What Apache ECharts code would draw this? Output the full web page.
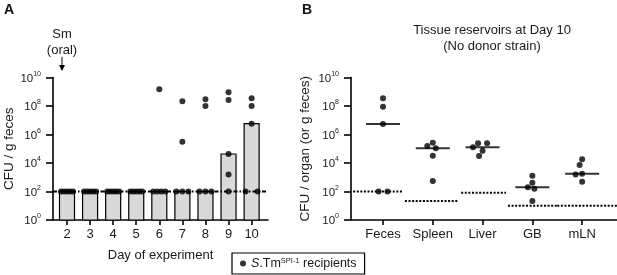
<!DOCTYPE html>
<html><head><meta charset="utf-8">
<script src="https://cdn.jsdelivr.net/npm/echarts@6/dist/echarts.min.js"></script>
<style>html,body{margin:0;padding:0;background:#fff}#c{width:617px;height:275px}</style>
</head><body><div id="c"></div>
<script>
// ---- Panel A: log10(CFU / g feces), five recipients per day ----
const days = ['2','3','4','5','6','7','8','9','10'];
const day2  = [2, 2, 2, 2, 2];
const day3  = [2, 2, 2, 2, 2];
const day4  = [2, 2, 2, 2, 2];
const day5  = [2, 2, 2, 2, 2];
const day6  = [9.17, 2, 2, 2, 2];
const day7  = [8.33, 5.49, 2, 2, 2];
const day8  = [8.47, 8.0, 2, 2, 2];
const day9  = [8.96, 8.42, 4.63, 3.2, 2];
const day10 = [8.54, 8.0, 6.76, 2, 2];
const fecesLOD = 2;

// ---- Panel B: log10(CFU / organ or g feces) at day 10 ----
const tissues = ['Feces', 'Spleen', 'Liver', 'GB', 'mLN'];
const feces  = [8.54, 7.95, 6.74, 2, 2];
const spleen = [5.42, 5.19, 5.03, 4.51, 2.74];
const liver  = [5.38, 5.38, 5.1, 4.86, 4.49];
const gb     = [3.11, 2.62, 2.29, 2.2, 1.33];
const mln    = [4.26, 3.86, 3.25, 3.2, 2.69];
const tissueLOD = [2, 1.33, 1.92, 1, 1];

const yTicks = [0, 2, 4, 6, 8, 10];
const seriesName = 'S.Tm recipients';

// ---------------- layout ----------------
const FONT = '"Liberation Sans", Arial, Helvetica, sans-serif';
const gridTop = 77.5, gridH = 142.5;
const gA = {left: 53, width: 215, min: -0.607, max: 8.71};
const gB = {left: 351, width: 266, min: -0.643, max: 4.70};
const pxPerDecade = gridH / 10;
const lodSpans = [[-0.6, 0.4], [0.44, 1.5], [1.57, 2.47], [2.51, 3.5], [3.5, 4.7]];

function median(a) {
  const s = a.slice().sort((x, y) => x - y);
  const m = Math.floor(s.length / 2);
  return s.length % 2 ? s[m] : (s[m - 1] + s[m]) / 2;
}

// simple beeswarm: identical values are spread across dupSpan px, others avoid overlap
function swarm(vals, dupSpan, D) {
  const order = vals.map((v, i) => i).sort((a, b) => vals[b] - vals[a]);
  const placed = [];
  const out = new Array(vals.length);
  const done = new Set();
  for (const i of order) {
    if (done.has(i)) continue;
    const dups = order.filter(j => !done.has(j) && vals[j] === vals[i]);
    const y = vals[i] * pxPerDecade;
    if (dups.length > 1) {
      const n = dups.length;
      dups.forEach((j, k) => {
        const dx = (k - (n - 1) / 2) * dupSpan / (n - 1);
        out[j] = dx; placed.push({dx, y}); done.add(j);
      });
      continue;
    }
    let dx = 0;
    for (let k = 0; k < 200; k++) {
      const c = k === 0 ? 0 : (k % 2 ? -1 : 1) * Math.ceil(k / 2) * 0.5;
      if (placed.every(p => Math.hypot(p.dx - c, p.y - y) >= D)) { dx = c; break; }
    }
    out[i] = dx; placed.push({dx, y}); done.add(i);
  }
  return out;
}

const dayData = [day2, day3, day4, day5, day6, day7, day8, day9, day10];
const tissueData = [feces, spleen, liver, gb, mln];

const pxA = gA.width / (gA.max - gA.min);
const pxB = gB.width / (gB.max - gB.min);

const pointsA = [];
dayData.forEach((vals, i) => {
  const off = swarm(vals, 12, 5.5);
  vals.forEach((v, k) => pointsA.push([i + off[k] / pxA, v]));
});
const barsA = dayData.map((vals, i) => [i, median(vals)]);

const pointsB = [];
tissueData.forEach((vals, i) => {
  const off = swarm(vals, 9, 6.2);
  vals.forEach((v, k) => pointsB.push([i + off[k] / pxB, v]));
});
const mediansB = tissueData.map((vals, i) => [i, median(vals)]);
const lodB = tissueLOD.map((v, i) => [lodSpans[i][0], lodSpans[i][1], v]);

const axisLineStyle = {color: '#000', width: 1.6};
function yAxis(gridIndex, name, gap) {
  return {
    gridIndex, type: 'value', min: 0, max: 10, interval: 2,
    name, nameLocation: 'middle', nameGap: gap,
    nameTextStyle: {fontFamily: FONT, fontSize: 13.5, color: '#1a1a1a'},
    axisLine: {show: true, onZero: false, lineStyle: axisLineStyle},
    axisTick: {show: true, length: 7, lineStyle: axisLineStyle},
    splitLine: {show: false},
    axisLabel: {
      margin: 12,
      formatter: v => '{b|10}{s|' + v + '}',
      rich: {
        b: {fontFamily: FONT, fontSize: 11.5, color: '#1a1a1a', verticalAlign: 'bottom', lineHeight: 14},
        s: {fontFamily: FONT, fontSize: 7, color: '#1a1a1a', verticalAlign: 'top', lineHeight: 14}
      }
    }
  };
}
function xAxis(gridIndex, g, cats, name) {
  const idx = cats.map((c, i) => i);
  return {
    gridIndex, type: 'value', min: g.min, max: g.max,
    name, nameLocation: 'middle', nameGap: 29,
    nameTextStyle: {fontFamily: FONT, fontSize: 13, color: '#1a1a1a'},
    axisLine: {show: true, onZero: false, lineStyle: axisLineStyle},
    axisTick: {show: true, length: 5, customValues: idx, lineStyle: axisLineStyle},
    splitLine: {show: false},
    axisLabel: {
      customValues: idx, margin: 8,
      fontFamily: FONT, fontSize: 13, color: '#1a1a1a',
      formatter: v => cats[Math.round(v)]
    }
  };
}

const chart = echarts.init(document.getElementById('c'));
chart.setOption({
  animation: false,
  backgroundColor: '#fff',
  textStyle: {fontFamily: FONT},
  title: {
    text: 'Tissue reservoirs at Day 10\n(No donor strain)',
    left: 487, top: 17, textAlign: 'center',
    textStyle: {fontFamily: FONT, fontSize: 13, fontWeight: 'normal', color: '#1a1a1a', lineHeight: 16}
  },
  grid: [
    {left: gA.left, top: gridTop, width: gA.width, height: gridH},
    {left: gB.left, top: gridTop, width: gB.width, height: gridH}
  ],
  xAxis: [xAxis(0, gA, days, 'Day of experiment'), xAxis(1, gB, tissues, '')],
  yAxis: [yAxis(0, 'CFU / g feces', 36), yAxis(1, 'CFU / organ (or g feces)', 39)],
  legend: {
    data: [seriesName],
    left: 232, top: 253,
    padding: [4, 8, 4, 8],
    borderColor: '#000', borderWidth: 1.2,
    icon: 'circle', itemWidth: 6, itemHeight: 6, itemGap: 5,
    formatter: () => '{i|S}{n|.Tm}{s|SPI-1}{n| recipients}',
    textStyle: {
      rich: {
        i: {fontFamily: FONT, fontSize: 12.5, fontStyle: 'italic', color: '#1a1a1a', verticalAlign: 'bottom', lineHeight: 13},
        n: {fontFamily: FONT, fontSize: 12.5, color: '#1a1a1a', verticalAlign: 'bottom', lineHeight: 13},
        s: {fontFamily: FONT, fontSize: 7.5, color: '#1a1a1a', verticalAlign: 'top', lineHeight: 13}
      }
    }
  },
  graphic: [
    {type: 'text', left: 4, top: 3, style: {text: 'A', font: 'bold 14px ' + FONT, fill: '#111'}},
    {type: 'text', left: 302, top: 3, style: {text: 'B', font: 'bold 14px ' + FONT, fill: '#111'}},
    {type: 'text', x: 62, y: 26, style: {text: 'Sm\n(oral)', font: '13px ' + FONT, fill: '#1a1a1a', align: 'center', lineHeight: 16}},
    {type: 'line', shape: {x1: 62, y1: 57, x2: 62, y2: 68}, style: {stroke: '#000', lineWidth: 1}},
    {type: 'polygon', shape: {points: [[59, 65], [65, 65], [62, 71]]}, style: {fill: '#000'}}
  ],
  series: [
    {
      type: 'custom', xAxisIndex: 0, yAxisIndex: 0, z: 1,
      data: barsA, encode: {x: 0, y: 1},
      renderItem: (params, api) => {
        const top = api.coord([api.value(0), api.value(1)]);
        const base = api.coord([api.value(0), 0]);
        return {type: 'rect', shape: {x: top[0] - 7.5, y: top[1], width: 15, height: base[1] - top[1]},
          style: {fill: '#d9d9d9', stroke: '#000', lineWidth: 1.2}};
      }
    },
    {
      type: 'line', xAxisIndex: 0, yAxisIndex: 0, z: 3, symbol: 'none', silent: true,
      data: [[gA.min, fecesLOD], [gA.max, fecesLOD]],
      lineStyle: {color: '#000', width: 2, type: [4, 2, 1.5, 2]}
    },
    {
      name: seriesName, type: 'scatter', xAxisIndex: 0, yAxisIndex: 0, z: 5,
      data: pointsA, symbol: 'circle', symbolSize: 6, itemStyle: {color: '#000'}
    },
    {
      type: 'custom', xAxisIndex: 1, yAxisIndex: 1, z: 3,
      data: lodB, encode: {x: [0, 1], y: 2},
      renderItem: (params, api) => {
        const a = api.coord([api.value(0), api.value(2)]);
        const b = api.coord([api.value(1), api.value(2)]);
        return {type: 'line', shape: {x1: a[0], y1: a[1], x2: b[0], y2: b[1]},
          style: {stroke: '#000', lineWidth: 2, lineDash: [2, 1.6]}};
      }
    },
    {
      type: 'scatter', xAxisIndex: 1, yAxisIndex: 1, z: 4, silent: true,
      data: mediansB, symbol: 'rect', symbolSize: [34, 2], itemStyle: {color: '#000'}
    },
    {
      name: seriesName, type: 'scatter', xAxisIndex: 1, yAxisIndex: 1, z: 5,
      data: pointsB, symbol: 'circle', symbolSize: 6, itemStyle: {color: '#000'}
    }
  ]
});
</script>
</body></html>
